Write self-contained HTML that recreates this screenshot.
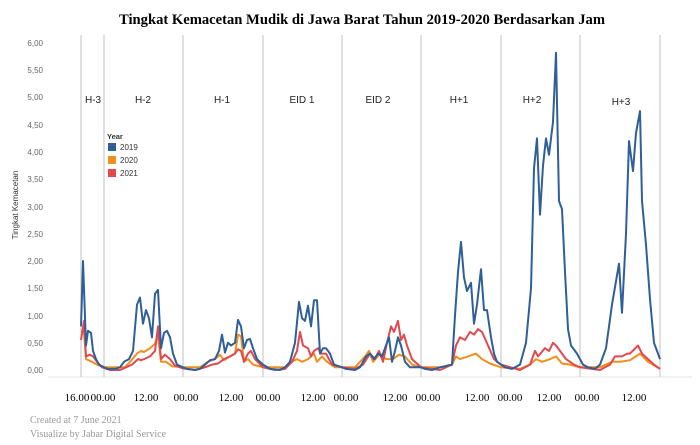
<!DOCTYPE html>
<html><head><meta charset="utf-8"><style>
body{margin:0;background:#fff;width:700px;height:445px;overflow:hidden}
svg{display:block}
</style></head><body>
<svg id="s" width="700" height="445" xmlns="http://www.w3.org/2000/svg" font-family="Liberation Sans, sans-serif">
<text x="362" y="24" text-anchor="middle" font-family="Liberation Serif, serif" font-weight="bold" font-size="15" textLength="486" lengthAdjust="spacingAndGlyphs">Tingkat Kemacetan Mudik di Jawa Barat Tahun 2019-2020 Berdasarkan Jam</text>
<g fill="#666" font-size="8" text-anchor="end">
<text x="43" y="46">6,00</text><text x="43" y="73">5,50</text><text x="43" y="100">5,00</text><text x="43" y="128">4,50</text><text x="43" y="155">4,00</text><text x="43" y="182">3,50</text><text x="43" y="210">3,00</text><text x="43" y="237">2,50</text><text x="43" y="264">2,00</text><text x="43" y="291">1,50</text><text x="43" y="319">1,00</text><text x="43" y="346">0,50</text><text x="43" y="373">0,00</text>
</g>
<text transform="translate(18,205) rotate(-90)" text-anchor="middle" font-size="8" fill="#333">Tingkat Kemacetan</text>
<line x1="48" y1="377" x2="692" y2="377" stroke="#e6e6e6"/>
<g stroke="#ccc" stroke-width="1.2">
<line x1="81" y1="35" x2="81" y2="377"/><line x1="104" y1="35" x2="104" y2="377"/><line x1="183" y1="35" x2="183" y2="377"/><line x1="263" y1="35" x2="263" y2="377"/><line x1="342" y1="35" x2="342" y2="377"/><line x1="421" y1="35" x2="421" y2="377"/><line x1="501" y1="35" x2="501" y2="377"/><line x1="580" y1="35" x2="580" y2="377"/><line x1="660" y1="35" x2="660" y2="377"/>
</g>
<g font-size="10" fill="#222" text-anchor="middle">
<text x="93" y="103">H-3</text><text x="143" y="103">H-2</text><text x="222" y="103">H-1</text><text x="302" y="103">EID 1</text><text x="378" y="103">EID 2</text><text x="459" y="103">H+1</text><text x="532" y="103">H+2</text><text x="621" y="105">H+3</text>
</g>
<text x="107" y="139" font-size="7.5" font-weight="bold" fill="#333">Year</text>
<rect x="108" y="143" width="8" height="8" fill="#2f5f98"/><text x="120" y="150" font-size="8" fill="#333">2019</text>
<rect x="108" y="156" width="8" height="8" fill="#f28e1c"/><text x="120" y="163" font-size="8" fill="#333">2020</text>
<rect x="108" y="169" width="8" height="8" fill="#e04a4f"/><text x="120" y="176" font-size="8" fill="#333">2021</text>
<g id="lines" fill="none" stroke-width="2" stroke-linejoin="round"></g>
<g font-family="Liberation Serif, serif" font-size="11" text-anchor="middle" fill="#000">
<text x="77" y="401">16.00</text><text x="103" y="401">00.00</text><text x="146" y="401">12.00</text><text x="186" y="401">00.00</text><text x="231" y="401">12.00</text><text x="268" y="401">00.00</text><text x="313" y="401">12.00</text><text x="346" y="401">00.00</text><text x="395" y="401">12.00</text><text x="428" y="401">00.00</text><text x="477" y="401">12.00</text><text x="510" y="401">00.00</text><text x="549" y="401">12.00</text><text x="587" y="401">00.00</text><text x="634" y="401">12.00</text>
</g>
<text x="30" y="423" font-family="Liberation Serif, serif" font-size="10" fill="#999">Created at 7 June 2021</text>
<text x="30" y="437" font-family="Liberation Serif, serif" font-size="10" fill="#999">Visualize by Jabar Digital Service</text>
</svg>
<script>
var orange=[81,.7,84,.7,86,.2,92,.15,97,.1,104,.05,115,.05,125,.05,130,.15,137,.3,141,.35,144,.33,150,.4,155,.48,158,.65,161,.15,166,.15,172,.07,183,.05,200,.05,208,.15,215,.2,220,.28,224,.18,230,.25,235,.3,238,.65,241,.62,244,.15,248,.2,253,.1,263,.05,285,.05,292,.15,297,.2,302,.15,308,.2,314,.3,317,.15,322,.25,327,.15,335,.05,342,.05,355,.05,365,.25,369,.35,373,.15,380,.3,386,.2,393,.2,399,.28,405,.25,412,.1,421,.05,440,.05,452,.1,456,.25,460,.2,468,.25,476,.3,482,.2,490,.12,501,.05,520,.02,530,.1,536,.2,542,.15,550,.2,556,.25,562,.12,570,.1,580,.05,600,.05,612,.15,620,.15,630,.18,640,.3,648,.15,660,.02];
var red=[81,.55,84,.9,86,.25,90,.28,93,.25,97,.15,102,.05,110,0,120,0,126,.05,132,.1,138,.2,141,.18,144,.2,150,.25,155,.35,158,.8,161,.2,165,.28,170,.2,175,.08,183,.03,195,0,205,.05,212,.1,218,.12,224,.2,230,.25,235,.3,238,.38,241,.35,244,.15,248,.3,251,.35,255,.2,263,.05,275,0,285,.02,292,.15,297,.35,300,.7,303,.45,308,.4,311,.25,314,.35,318,.4,321,.3,326,.3,332,.1,342,.05,355,.02,363,.1,370,.3,375,.2,379,.35,383,.15,387,.5,391,.8,394,.7,398,.9,401,.55,404,.65,407,.45,412,.2,421,.05,440,0,452,.1,456,.45,460,.6,465,.55,470,.7,474,.65,478,.75,482,.7,488,.45,494,.2,501,.1,520,0,530,.1,535,.35,538,.25,545,.4,549,.35,553,.5,556,.45,560,.35,566,.2,574,.1,580,.05,600,0,610,.1,615,.25,622,.25,627,.3,630,.3,638,.45,642,.3,648,.2,654,.1,660,.02];
var blue=[81,.8,83,2,86,.45,88,.72,91,.68,93,.35,96,.2,99,.1,104,.05,108,.02,115,.02,120,.05,124,.15,129,.2,133,.35,137,1.2,140,1.33,143,.85,146,1.1,149,.95,152,.6,155,1.4,158,1.47,161,.4,164,.68,167,.72,170,.6,173,.3,177,.1,183,.05,187,.02,195,0,200,.02,205,.1,210,.18,215,.2,219,.35,222,.65,225,.32,228,.5,231,.45,235,.5,238,.92,241,.8,244,.4,247,.55,250,.57,253,.4,257,.2,263,.1,270,.02,280,0,285,.05,290,.15,295,.5,299,1.25,302,.95,305,.9,308,1.18,311,.8,314,1.28,317,1.28,320,.3,323,.4,326,.4,330,.3,334,.1,342,.05,346,.02,355,0,360,.05,366,.25,370,.3,374,.2,378,.3,382,.25,386,.45,389,.6,392,.15,395,.35,398,.6,401,.45,405,.15,410,.05,421,.05,425,.02,432,0,440,.05,452,.1,455,1,458,1.8,461,2.35,464,1.7,467,1.45,471,1.6,474,.85,477,1.2,481,1.85,484,1.1,487,1.1,491,.6,494,.3,497,.15,501,.1,505,.05,512,.02,520,.1,526,.5,531,1.5,534,3.7,537,4.25,540,2.85,543,3.75,546,4.25,549,3.95,553,4.55,556,5.82,559,3.1,562,2.95,565,1.8,568,.75,571,.45,577,.3,580,.2,583,.1,588,.05,595,.02,600,.1,606,.4,612,1.2,619,1.95,622,1.05,626,2.5,629,4.2,633,3.65,636,4.35,640,4.75,642,3.1,646,2.3,650,1.3,654,.5,657,.35,660,.2];
var g=document.getElementById('lines');
[[orange,'#f28e1c'],[red,'#e04a4f'],[blue,'#2f5f98']].forEach(function(s){
 var a=s[0],p=[];for(var i=0;i<a.length;i+=2)p.push(a[i]+','+(370-54.5*a[i+1]).toFixed(1));
 var e=document.createElementNS('http://www.w3.org/2000/svg','polyline');
 e.setAttribute('points',p.join(' '));e.setAttribute('stroke',s[1]);g.appendChild(e);
});
</script>
</body></html>
